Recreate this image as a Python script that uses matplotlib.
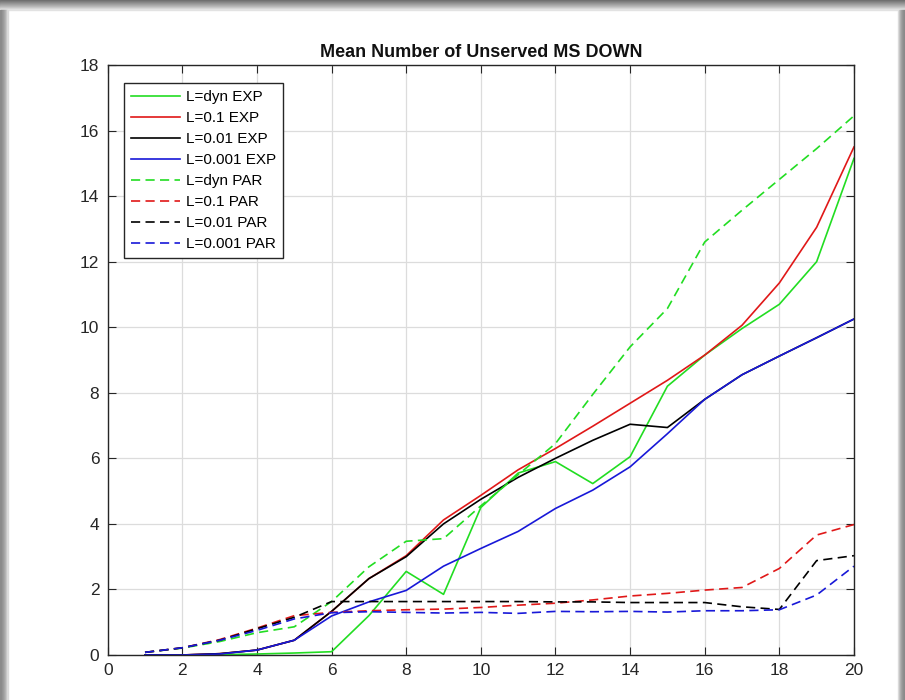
import numpy as np
import matplotlib
matplotlib.use('Agg')
import matplotlib.pyplot as plt
from matplotlib.patches import Rectangle
#
# -----------------------------------------------------------------------------
#
""" Data read from the reference chart """
x = np.arange(1, 21)

dyn_exp = [0.0, 0.0, 0.01, 0.03, 0.06, 0.10, 1.2, 2.55, 1.85, 4.5,
           5.55, 5.9, 5.23, 6.05, 8.2, 9.15, 9.96, 10.7, 12.0, 15.15]
l01_exp = [0.0, 0.0, 0.04, 0.15, 0.45, 1.33, 2.33, 3.03, 4.12, 4.87,
           5.65, 6.3, 6.98, 7.68, 8.38, 9.15, 10.06, 11.35, 13.05, 15.5]
l001_exp = [0.0, 0.0, 0.04, 0.15, 0.45, 1.33, 2.33, 3.0, 4.0, 4.75,
            5.42, 6.0, 6.55, 7.04, 6.94, 7.8, 8.55, 9.12, 9.68, 10.25]
l0001_exp = [0.0, 0.0, 0.03, 0.15, 0.45, 1.19, 1.62, 1.97, 2.71, 3.25,
             3.77, 4.47, 5.03, 5.74, 6.75, 7.8, 8.55, 9.12, 9.68, 10.25]

dyn_par = [0.08, 0.21, 0.41, 0.68, 0.86, 1.63, 2.69, 3.47, 3.55, 4.55,
           5.5, 6.45, 7.95, 9.4, 10.57, 12.6, 13.57, 14.51, 15.45, 16.45]
l01_par = [0.08, 0.22, 0.47, 0.82, 1.2, 1.3, 1.35, 1.38, 1.4, 1.45,
           1.52, 1.58, 1.68, 1.8, 1.88, 1.98, 2.06, 2.64, 3.66, 3.98]
l001_par = [0.08, 0.22, 0.45, 0.8, 1.15, 1.63, 1.63, 1.63, 1.63, 1.63,
            1.63, 1.62, 1.62, 1.6, 1.6, 1.6, 1.47, 1.39, 2.88, 3.03]
l0001_par = [0.08, 0.22, 0.45, 0.75, 1.1, 1.29, 1.32, 1.3, 1.28, 1.3,
             1.27, 1.33, 1.32, 1.33, 1.31, 1.35, 1.35, 1.38, 1.83, 2.71]

labels = ['L=dyn EXP', 'L=0.1 EXP', 'L=0.01 EXP', 'L=0.001 EXP',
          'L=dyn PAR', 'L=0.1 PAR', 'L=0.01 PAR', 'L=0.001 PAR']
#
# -----------------------------------------------------------------------------
#
""" Plot """
plt.rcParams['font.family'] = ['Liberation Sans', 'DejaVu Sans']
c_g, c_r, c_k, c_b = '#22dd22', '#e01818', 'black', '#1818d8'
lw = 1.2
dash = (0, (5.5, 3.2))

f = plt.figure(figsize=(9.05, 7.0), dpi=100)
ax = f.add_axes([0.119, 0.0643, 0.8246, 0.8428])

ax.plot(x, dyn_exp, c=c_g, lw=lw, label=labels[0])
ax.plot(x, l01_exp, c=c_r, lw=lw, label=labels[1])
ax.plot(x, l001_exp, c=c_k, lw=lw, label=labels[2])
ax.plot(x, l0001_exp, c=c_b, lw=lw, label=labels[3])
ax.plot(x, dyn_par, c=c_g, lw=lw, ls=dash, label=labels[4])
ax.plot(x, l01_par, c=c_r, lw=lw, ls=dash, label=labels[5])
ax.plot(x, l001_par, c=c_k, lw=lw, ls=dash, label=labels[6])
ax.plot(x, l0001_par, c=c_b, lw=lw, ls=dash, label=labels[7])

ax.set_xlim(0, 20)
ax.set_ylim(0, 18)
ax.set_xticks(np.arange(0, 21, 2))
ax.set_yticks(np.arange(0, 19, 2))
ax.tick_params(direction='in', top=True, right=True, length=6,
               labelsize=12.5, labelcolor='#262626', color='#262626', pad=6)
ax.grid(color='#dcdcdc', lw=0.9)
ax.set_axisbelow(True)
for s in ax.spines.values():
    s.set_color('#262626')
    s.set_linewidth(1.0)

ax.set_title('Mean Number of Unserved MS DOWN', fontsize=13,
             fontweight='bold', color='#111111', pad=6)

leg = ax.legend(loc='upper left', bbox_to_anchor=(0.0215, 0.969),
                fontsize=11, handlelength=3.2, handletextpad=0.45,
                labelspacing=0.46, borderpad=0.45, fancybox=False,
                framealpha=1, borderaxespad=0)
leg.get_frame().set_edgecolor('#262626')
leg.get_frame().set_linewidth(1.0)

# grey shadow frame around the screenshot
tops = ['#6e6e6e', '#7a7a7a', '#868686', '#929292', '#9e9e9e',
        '#aaaaaa', '#b6b6b6', '#c4c4c4', '#d2d2d2', '#e2e2e2']
for i, g in enumerate(tops):
    f.patches.append(Rectangle((0, 1 - (i + 1) / 700), 1, 1 / 700,
                               transform=f.transFigure, color=g, zorder=-5))
lefts = ['#8a8a8a', '#8a8a8a', '#929292', '#9a9a9a', '#a4a4a4',
         '#b0b0b0', '#c2c2c2', '#dadada']
for i, g in enumerate(lefts):
    f.patches.append(Rectangle((i / 905, 0), 1 / 905, 1 - 10 / 700,
                               transform=f.transFigure, color=g, zorder=-5))
rights = ['#e0e0e0', '#c8c8c8', '#b4b4b4', '#a4a4a4', '#989898',
          '#909090', '#8a8a8a']
for i, g in enumerate(rights):
    f.patches.append(Rectangle((1 - (7 - i) / 905, 0), 1 / 905, 1 - 10 / 700,
                               transform=f.transFigure, color=g, zorder=-5))

f.savefig('out.png', dpi=100)
